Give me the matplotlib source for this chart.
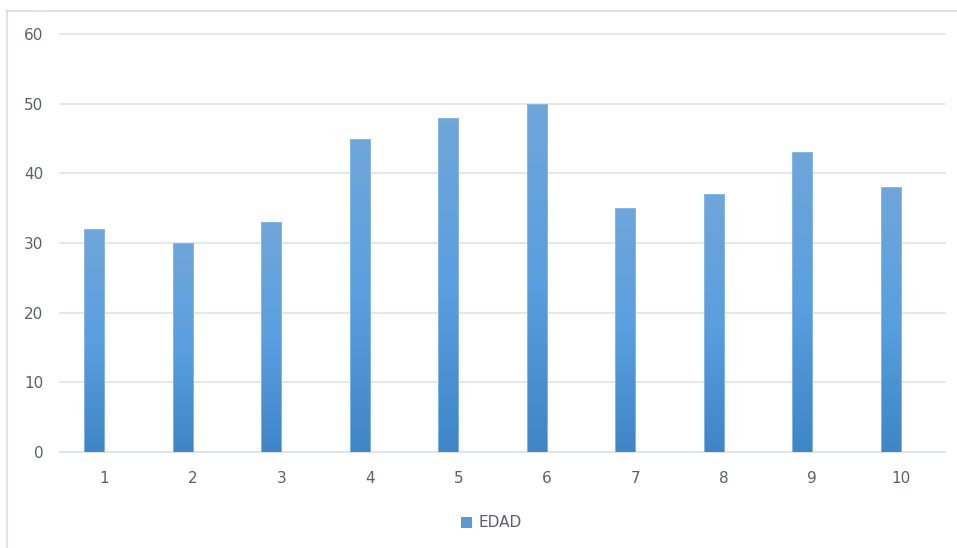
import matplotlib
matplotlib.use("Agg")
import matplotlib.pyplot as plt
import numpy as np
from matplotlib.colors import LinearSegmentedColormap
from matplotlib.patches import Rectangle
from matplotlib.lines import Line2D

# Ages per person
categories = ["1", "2", "3", "4", "5", "6", "7", "8", "9", "10"]
edad = [32, 30, 33, 45, 48, 50, 35, 37, 43, 38]
series_name = "EDAD"

TEXT = "#5a606b"
GRID = "#dfe3ea"
bar_cmap = LinearSegmentedColormap.from_list("bar", ["#3f86c7", "#5a9fdf", "#6fa6da"])

fig = plt.figure(figsize=(9.57, 5.48), dpi=100)
W, H = 957, 548
ax = fig.add_axes([60 / W, (H - 452) / H, 885 / W, 418 / H])

x = np.arange(len(categories))
width = 0.226
bars = ax.bar(x - width / 2, edad, width=width, color="none", edgecolor="none", zorder=3)

# vertical gradient fill clipped to each bar
grad = np.linspace(0, 1, 256).reshape(-1, 1)
for b in bars:
    x0, y0 = b.get_x(), b.get_y()
    im = ax.imshow(grad, cmap=bar_cmap, origin="lower", aspect="auto",
                   extent=[x0, x0 + b.get_width(), y0, y0 + b.get_height()],
                   zorder=3, interpolation="bicubic")
    im.set_clip_path(b)
    ax.add_patch(Rectangle((x0, y0), b.get_width(), b.get_height(),
                           fill=False, edgecolor="#8fbbe6", linewidth=0.6, zorder=4))

ax.set_xlim(-0.5, len(categories) - 0.5)
ax.set_ylim(0, 60)
ax.set_yticks(range(0, 61, 10))
ax.set_xticks(x)
ax.set_xticklabels(categories)
ax.yaxis.grid(True, color=GRID, linewidth=1.2, zorder=0)
for gl in ax.get_ygridlines():
    gl.set_clip_on(False)
ax.set_axisbelow(True)
for s in ax.spines.values():
    s.set_visible(False)
ax.spines["bottom"].set_visible(True)
ax.spines["bottom"].set_color(GRID)
ax.spines["bottom"].set_linewidth(1.2)
ax.tick_params(length=0, colors=TEXT, labelsize=11)
ax.tick_params(axis="x", pad=13.5)
ax.tick_params(axis="y", pad=12)

# legend below the plot
fig.patches.append(Rectangle((461 / W, (H - 528) / H), 11 / W, 11 / H,
                             transform=fig.transFigure, facecolor="#5b9bd5",
                             edgecolor="none"))
fig.text(478 / W, (H - 522.5) / H, series_name, color=TEXT, fontsize=11,
         va="center", ha="left")

# chart outline (right and bottom edges fall outside the image)
fig.add_artist(Line2D([7.5 / W, 7.5 / W], [0, (H - 10.5) / H],
                      transform=fig.transFigure, color="#d9dde5", linewidth=1.2))
fig.add_artist(Line2D([7.5 / W, 1], [(H - 10.5) / H, (H - 10.5) / H],
                      transform=fig.transFigure, color="#d9dde5", linewidth=1.2))

fig.savefig("out.png", dpi=100, facecolor="white")
